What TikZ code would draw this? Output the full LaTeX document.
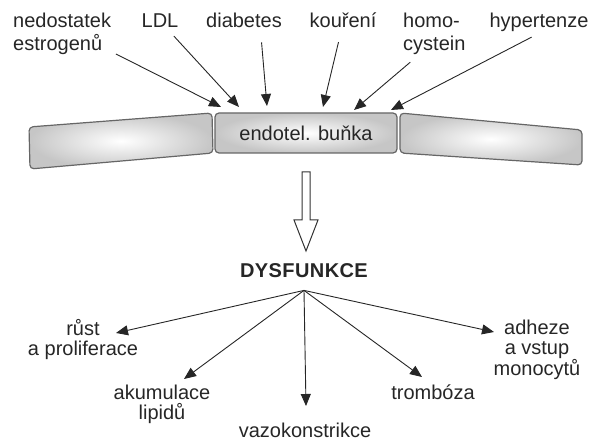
\documentclass[tikz,border=0pt]{standalone}
\usepackage{fontspec}
\setmainfont{Liberation Sans}
\usetikzlibrary{arrows.meta}
\begin{document}
\begin{tikzpicture}[x=1pt, y=-1pt,
		every node/.style={font=\fontsize{20}{23}\selectfont, text=black!85, inner sep=2pt},
		cause/.style={draw=black!85, line width=.9pt, -{Triangle[length=12pt, width=10pt]}},
		cellbody/.style={draw=black!60, line width=1.2pt, rounded corners=4pt, inner color=white, outer color=gray!45},
		effect/.style={align=center, anchor=north, font=\fontsize{20}{20}\selectfont}]
	\useasboundingbox (0,0) rectangle (598,441);
	\path[cellbody] (29,127) -- (212,113) -- (213,153) -- (30,169) -- cycle;
	\path[cellbody] (400,113) -- (582,130) -- (582,165) -- (400,153) -- cycle;
	\node[cellbody, minimum width=182pt, minimum height=40pt] (cell) at (306,133) {endotel. buňka};
	\node[anchor=north west, align=left] (ned) at (11,11) {nedostatek\\estrogenů};
	\node[anchor=base] (ldl) at (160,28) {LDL};
	\node[anchor=base] (diab) at (244,28) {diabetes};
	\node[anchor=base] (kour) at (343,28) {kouření};
	\node[anchor=north west, align=left] (homo) at (401,11) {homo-\\cystein};
	\node[anchor=base] (hyp) at (539,28) {hypertenze};
	\foreach \x/\y [count=\i] in {221/107, 239/107, 267/106, 323/107, 354/110, 391/110}
		\coordinate (t\i) at (\x,\y);
	\foreach \src/\ang/\gap [count=\i] in {ned/-20/3, ldl/-47/8, diab/-30/12, kour/-100/12, homo/-128/8, hyp/-100/6}
		\draw[cause, shorten <=\gap pt] (\src.\ang) -- (t\i);
	\draw[draw=black!80, line width=1pt, fill=white] (302,172) -- (310,172) -- (310,220) -- (318,220) -- (306,251) -- (294,220) -- (302,220) -- cycle;
	\node[font=\bfseries\fontsize{20}{23}\selectfont\addfontfeature{LetterSpace=2}, anchor=base] (dys) at (304,278) {DYSFUNKCE};
	\coordinate (hub) at ([yshift=-10pt]dys.south);
	\node[effect] (grow) at (83,317) {růst\\a proliferace};
	\node[effect] (lipid) at (162,383) {akumulace\\lipidů};
	\node[effect] (vaso) at (305,421) {vazokonstrikce};
	\node[effect] (throm) at (433,383) {trombóza};
	\node[effect] (adh) at (537,318) {adheze\\a vstup\\monocytů};
	\foreach \x/\y [count=\i] in {116/333, 184/379, 306/406, 422/377, 494/332}
		\coordinate (b\i) at (\x,\y);
	\foreach \i in {1,...,5}
		\draw[cause] (hub) -- (b\i);
\end{tikzpicture}
\end{document}
